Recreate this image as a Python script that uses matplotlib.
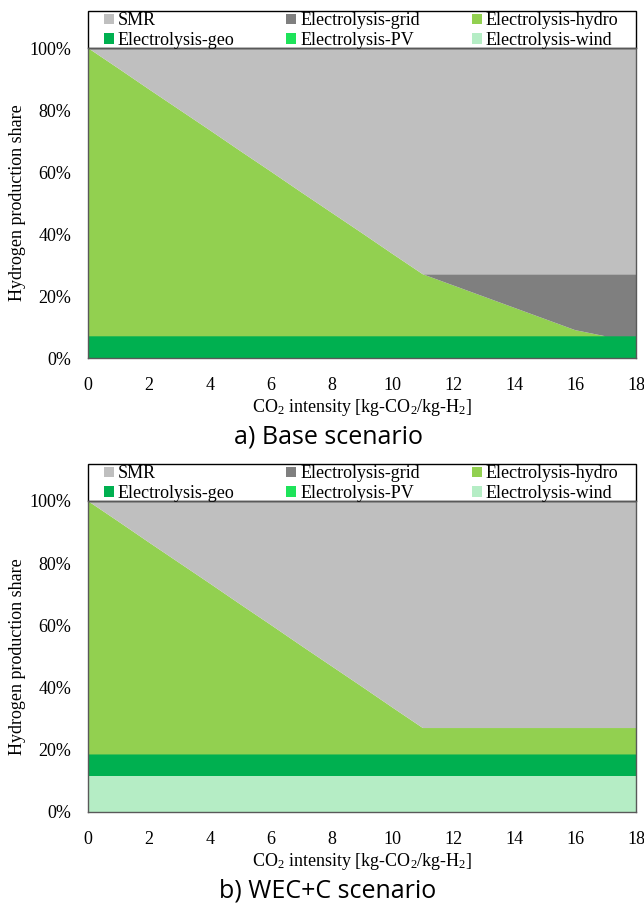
import matplotlib
matplotlib.use("Agg")
import matplotlib.pyplot as plt
from matplotlib.patches import Patch, Rectangle
from matplotlib.ticker import PercentFormatter

plt.rcParams['font.family'] = ['Liberation Serif', 'DejaVu Serif']
plt.rcParams['mathtext.fontset'] = 'custom'
plt.rcParams['mathtext.rm'] = 'Liberation Serif'
plt.rcParams['mathtext.it'] = 'Liberation Serif:italic'

x = list(range(0, 19))
labels = ["SMR", "Electrolysis-grid", "Electrolysis-hydro",
          "Electrolysis-geo", "Electrolysis-PV", "Electrolysis-wind"]
colors = ["#BFBFBF", "#7F7F7F", "#92D050", "#00B050", "#1EE35A", "#B5EDC5"]

# Base scenario (%)
smr_a = [0, 6.6, 13.3, 19.9, 26.5, 33.2, 39.8, 46.5, 53.1, 59.7, 66.4, 73, 73, 73, 73, 73, 73, 73, 73]
grid_a = [0, 0, 0, 0, 0, 0, 0, 0, 0, 0, 0, 0, 3.6, 7.2, 10.8, 14.4, 18, 20, 20]
hydro_a = [93, 86.4, 79.7, 73.1, 66.5, 59.8, 53.2, 46.5, 39.9, 33.3, 26.6, 20, 16.4, 12.8, 9.2, 5.6, 2, 0, 0]
geo_a = [7] * 19
pv_a = [0] * 19
wind_a = [0] * 19

# WEC+C scenario (%)
smr_b = [0, 6.6, 13.3, 19.9, 26.5, 33.2, 39.8, 46.5, 53.1, 59.7, 66.4, 73, 73, 73, 73, 73, 73, 73, 73]
grid_b = [0] * 19
hydro_b = [81.5, 74.9, 68.2, 61.6, 55, 48.3, 41.7, 35, 28.4, 21.8, 15.1, 8.5, 8.5, 8.5, 8.5, 8.5, 8.5, 8.5, 8.5]
geo_b = [7] * 19
pv_b = [0] * 19
wind_b = [11.5] * 19

xticks = [0, 2, 4, 6, 8, 10, 12, 14, 16, 18]
yticks = [0, 20, 40, 60, 80, 100]

W, H = 644, 908
fig = plt.figure(figsize=(W / 100, H / 100), dpi=100)

def px_axes(left, top, right, bottom):
    return fig.add_axes([left / W, 1 - bottom / H, (right - left) / W, (bottom - top) / H])

panels = [
    (px_axes(88, 48, 636, 358), [smr_a, grid_a, hydro_a, geo_a, pv_a, wind_a], "a) Base scenario", 358),
    (px_axes(88, 501, 636, 812), [smr_b, grid_b, hydro_b, geo_b, pv_b, wind_b], "b) WEC+C scenario", 812),
]

AW, AH = 548, 310
LH = 37

for ax, series, title, ybot in panels:
    # stack from bottom: wind, PV, geo, hydro, grid, SMR
    ax.stackplot(x, *series[::-1], colors=colors[::-1], linewidth=0)
    ax.set_xlim(0, 18)
    ax.set_ylim(0, 100)
    ax.set_xticks(xticks)
    ax.set_yticks(yticks)
    ax.yaxis.set_major_formatter(PercentFormatter(decimals=0))
    ax.tick_params(axis='both', length=0, labelsize=13)
    ax.tick_params(axis='x', pad=14)
    ax.tick_params(axis='y', pad=12)
    for s in ax.spines.values():
        s.set_color('#595959')
        s.set_linewidth(1.0)
    ax.set_ylabel("Hydrogen production share", fontsize=13)
    ax.yaxis.set_label_coords(-0.113, 0.5)

    # legend frame spanning full width above the plot area
    ax.add_patch(Rectangle((0, 1), 1, LH / AH, transform=ax.transAxes, fill=False,
                           edgecolor='black', linewidth=1.0, clip_on=False))
    order = [0, 3, 1, 4, 2, 5]
    handles = [Patch(facecolor=colors[i], edgecolor='none') for i in order]
    ax.legend(handles, [labels[i] for i in order], ncol=3, loc='center',
              bbox_to_anchor=(16 / AW, 1 - 1 / AH, (AW - 34) / AW, LH / AH), mode='expand',
              borderaxespad=0, borderpad=0, frameon=False, fontsize=13,
              handlelength=0.55, handleheight=0.55, handletextpad=0.2,
              labelspacing=0.12, columnspacing=1.0)

    fig.text(362 / W, 1 - (ybot + 49) / H, r"CO$_2$ intensity [kg-CO$_2$/kg-H$_2$]",
             ha='center', va='center', fontsize=13)
    fig.text(328 / W, 1 - (ybot + 79) / H, title, ha='center', va='center',
             fontsize=18, family=['Open Sans', 'DejaVu Sans'])

fig.savefig("out.png", dpi=100)
